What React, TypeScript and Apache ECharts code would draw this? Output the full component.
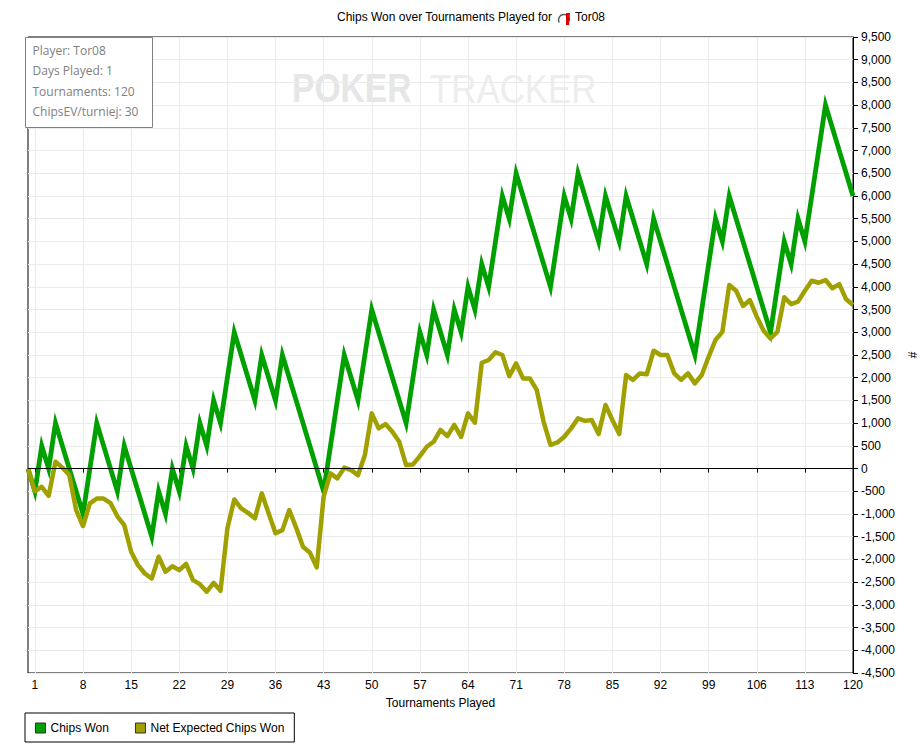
import React, { useEffect, useRef } from "react";
import * as echarts from "echarts";

// Tournament index 0..120 (0 = start)
const tournamentNumbers: string[] = Array.from({ length: 121 }, (_, i) => String(i));
const xTickLabels: number[] = [1, 8, 15, 22, 29, 36, 43, 50, 57, 64, 71, 78, 85, 92, 99, 106, 113, 120];

const chipsWon: number[] = [
  0, -500, 500, 0, 1000, 500, 0, -500, -1000, 0,
  1000, 500, 0, -500, 500, 0, -500, -1000, -1500, -500,
  -1000, 0, -500, 500, 0, 1000, 500, 1500, 1000, 2000,
  3000, 2500, 2000, 1500, 2500, 2000, 1500, 2500, 2000, 1500,
  1000, 500, 0, -500, 500, 1500, 2500, 2000, 1500, 2500,
  3500, 3000, 2500, 2000, 1500, 1000, 2000, 3000, 2500, 3500,
  3000, 2500, 3500, 3000, 4000, 3500, 4500, 4000, 5000, 6000,
  5500, 6500, 6000, 5500, 5000, 4500, 4000, 5000, 6000, 5500,
  6500, 6000, 5500, 5000, 6000, 5500, 5000, 6000, 5500, 5000,
  4500, 5500, 5000, 4500, 4000, 3500, 3000, 2500, 3500, 4500,
  5500, 5000, 6000, 5500, 5000, 4500, 4000, 3500, 3000, 4000,
  5000, 4500, 5500, 5000, 6000, 7000, 8000, 7500, 7000, 6500,
  6000,
];

const netExpectedChipsWon: number[] = [
  0, -500, -400, -600, 150, 20, -140, -915, -1265, -765,
  -660, -660, -760, -1050, -1245, -1830, -2125, -2310, -2420, -1940,
  -2270, -2150, -2235, -2100, -2455, -2545, -2710, -2515, -2690, -1320,
  -680, -875, -975, -1095, -545, -985, -1425, -1355, -915, -1300,
  -1720, -1850, -2175, -620, -105, -215, 20, -35, -145, 300,
  1215, 885, 980, 810, 590, 77, 92, 275, 480, 590,
  850, 715, 960, 700, 1215, 1010, 2330, 2390, 2560, 2500,
  2035, 2315, 1985, 1985, 1730, 1030, 520, 575, 700, 885,
  1105, 1050, 1070, 760, 1400, 1070, 760, 2060, 1950, 2095,
  2075, 2595, 2500, 2500, 2095, 1950, 2095, 1875, 2060, 2460,
  2830, 3010, 4040, 3915, 3580, 3710, 3345, 3035, 2865, 3010,
  3770, 3620, 3675, 3915, 4135, 4090, 4150, 3970, 4060, 3725,
  3600,
];

const infoLines: string[] = ["Player: Tor08", "Days Played: 1", "Tournaments: 120", "ChipsEV/turniej: 30"];

const FONT = "Liberation Sans";

export default function App() {
  const ref = useRef<HTMLDivElement>(null);

  useEffect(() => {
    document.body.style.margin = "0";
    if (!ref.current) return;
    const chart = echarts.init(ref.current, null, { renderer: "svg" });
    const tickSet = new Set(xTickLabels.map(String));
    const showTick = (_i: number, v: string) => tickSet.has(String(v));

    const option: any = {
      animation: false,
      textStyle: { fontFamily: FONT },
      grid: {
        left: 28,
        right: 67,
        top: 37,
        bottom: 77,
        show: true,
        borderColor: "#000",
        borderWidth: 1,
        containLabel: false,
        outerBoundsMode: "none",
      },
      legend: {
        data: ["Chips Won", "Net Expected Chips Won"],
        left: 25,
        top: 713,
        orient: "horizontal",
        borderColor: "#000",
        borderWidth: 1,
        borderRadius: 0,
        padding: [9, 10, 8, 10],
        itemGap: 26,
        itemWidth: 10,
        itemHeight: 10,
        icon: "rect",
        itemStyle: { borderColor: "#333", borderWidth: 1 },
        textStyle: { fontSize: 12, color: "#000", fontFamily: FONT },
      },
      xAxis: {
        type: "category",
        data: tournamentNumbers,
        boundaryGap: false,
        name: "Tournaments Played",
        nameLocation: "middle",
        nameGap: 24,
        nameTextStyle: { color: "#000", fontSize: 12, fontFamily: FONT },
        axisLine: { lineStyle: { color: "#000", width: 1 } },
        axisTick: { interval: showTick, length: 4, lineStyle: { color: "#000" } },
        axisLabel: { interval: showTick, color: "#000", fontSize: 12, margin: 6, fontFamily: FONT },
        splitLine: { show: true, interval: showTick, lineStyle: { color: "#ebebeb", width: 1 } },
      },
      yAxis: {
        type: "value",
        position: "right",
        min: -4500,
        max: 9500,
        interval: 500,
        name: "#",
        nameLocation: "middle",
        nameGap: 54,
        nameRotate: 90,
        nameTextStyle: { color: "#000", fontSize: 12, fontFamily: FONT },
        axisLine: { show: true, lineStyle: { color: "#000", width: 1 } },
        axisTick: { show: true, length: 5, lineStyle: { color: "#000" } },
        axisLabel: {
          color: "#000",
          fontSize: 12,
          margin: 8,
          fontFamily: FONT,
          formatter: (v: number) => v.toLocaleString("en-US"),
        },
        splitLine: { show: true, lineStyle: { color: "#ebebeb", width: 1 } },
      },
      series: [
        {
          type: "line",
          data: [],
          z: 1,
          silent: true,
          markLine: {
            silent: true,
            symbol: ["none", "none"],
            label: { show: false },
            lineStyle: { color: "#000", width: 1, type: "solid" },
            data: [{ yAxis: 0 }],
          },
        },
        {
          name: "Chips Won",
          type: "line",
          data: chipsWon,
          symbol: "none",
          z: 3,
          color: "#00a000",
          lineStyle: { color: "#00a000", width: 4.8, join: "miter", miterLimit: 8, cap: "butt" },
        },
        {
          name: "Net Expected Chips Won",
          type: "line",
          data: netExpectedChipsWon,
          symbol: "none",
          z: 4,
          color: "#a0a000",
          lineStyle: { color: "#a0a000", width: 4.5, join: "round", cap: "butt" },
        },
      ],
      graphic: [
        // watermark
        {
          type: "group",
          left: 292,
          top: 69,
          z: 0,
          silent: true,
          children: [
            {
              type: "text",
              x: 0,
              y: 0,
              z: 0,
              scaleX: 0.8,
              scaleY: 0.95,
              style: { text: "POKER", font: `bold 42px "${FONT}"`, fill: "#e6e6e6" },
            },
            {
              type: "text",
              x: 138,
              y: 0,
              z: 0,
              scaleX: 0.83,
              scaleY: 0.95,
              style: { text: "TRACKER", font: `42px "${FONT}"`, fill: "#ededed" },
            },
          ],
        },
        // info box
        {
          type: "group",
          left: 25,
          top: 37,
          z: 50,
          children: [
            {
              type: "rect",
              z: 50,
              shape: { x: 0, y: 0, width: 127, height: 90 },
              style: { fill: "#fff", stroke: "#808080", lineWidth: 1 },
            },
            ...infoLines.map((t, i) => ({
              type: "text",
              z: 51,
              x: 7,
              y: 13 + i * 20.3,
              style: {
                text: t,
                font: `12px "Open Sans"`,
                fill: "#808080",
                textVerticalAlign: "middle",
              },
            })),
          ],
        },
        // title
        {
          type: "text",
          left: 337,
          top: 11,
          style: { text: "Chips Won over Tournaments Played for", font: `12px "${FONT}"`, fill: "#000" },
        },
        {
          type: "arc",
          shape: { cx: 564, cy: 20, r: 5.5, startAngle: Math.PI * 0.85, endAngle: Math.PI * 2.05 },
          style: { stroke: "#555", lineWidth: 1.5, fill: "none" },
        },
        {
          type: "polygon",
          shape: { points: [[566, 13], [570, 13], [569, 25], [566, 25]] },
          style: { fill: "#dd0000" },
        },
        {
          type: "text",
          left: 575,
          top: 11,
          style: { text: "Tor08", font: `12px "${FONT}"`, fill: "#000" },
        },
      ],
    };

    chart.setOption(option);
    return () => chart.dispose();
  }, []);

  return <div ref={ref} style={{ width: 920, height: 750 }} />;
}
